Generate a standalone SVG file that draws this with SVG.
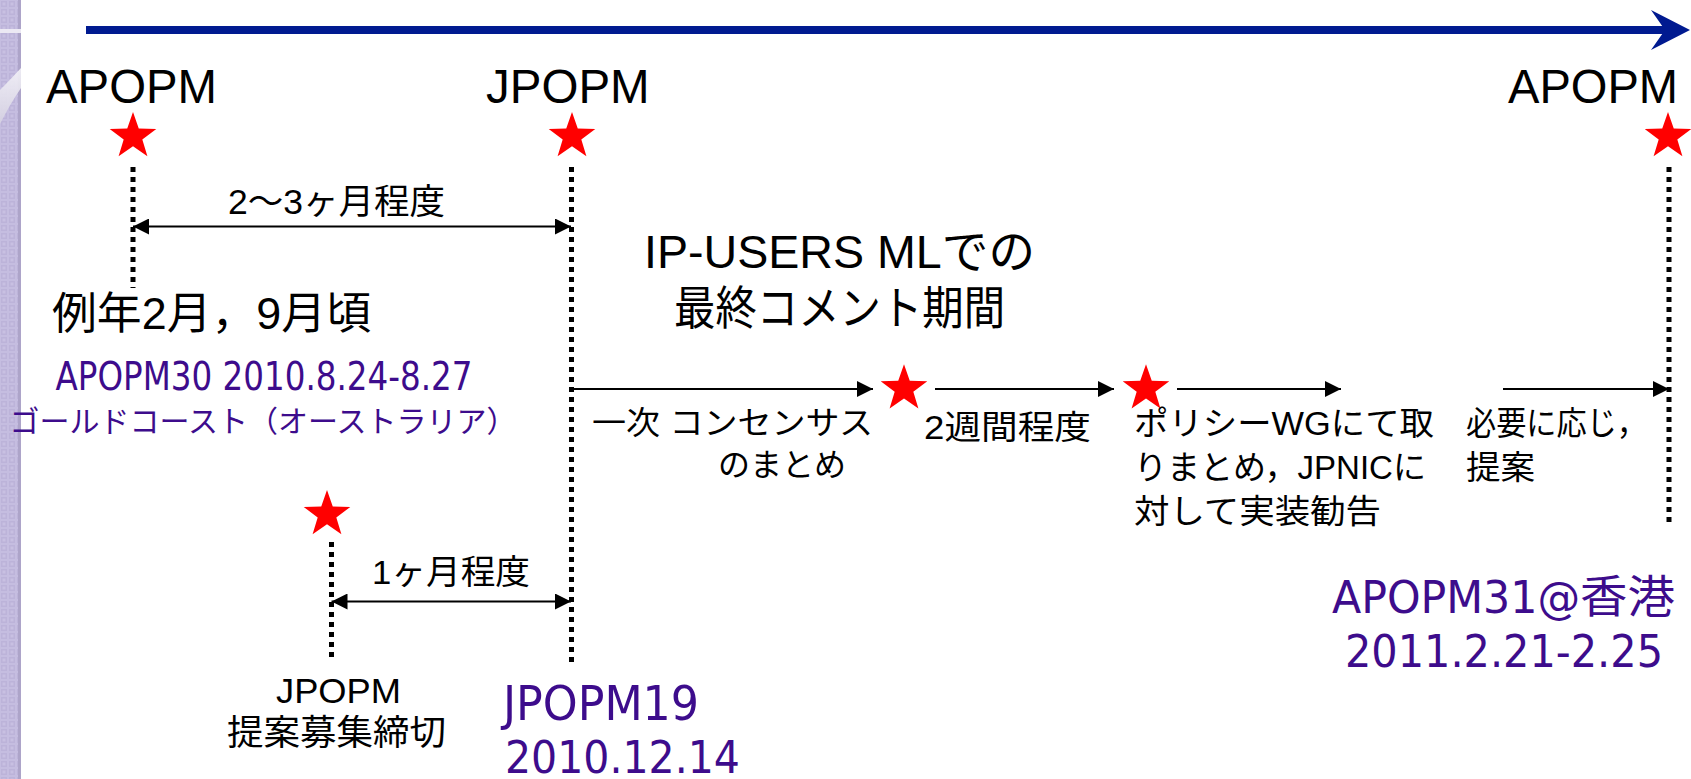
<svg xmlns="http://www.w3.org/2000/svg" width="1691" height="779" viewBox="0 0 1691 779">
<style>
.lat{font-family:"Liberation Sans","Noto Sans CJK JP",sans-serif;fill:#000}
.jp{font-family:"Liberation Sans","Noto Sans CJK JP",sans-serif;fill:#000}
.pu{font-family:"DejaVu Sans Condensed","DejaVu Sans","Noto Sans CJK JP",sans-serif;fill:#3d0c8c}
.puj{font-family:"Noto Sans CJK JP",sans-serif;fill:#3d0c8c}
.dot{stroke:#000;stroke-width:5;stroke-dasharray:5 5;fill:none}
.arr{stroke:#000;stroke-width:2;fill:none}
.one{marker-end:url(#ah)}
.two{marker-end:url(#ah);marker-start:url(#ah)}
.star{fill:#ff0000}
</style>
<defs>
<pattern id="chk" width="8" height="8" patternUnits="userSpaceOnUse">
<rect width="8" height="8" fill="#c5bde0"/>
<rect x="1" y="1" width="6" height="6" fill="#bcb3d9"/>
<rect x="2.5" y="2.5" width="3" height="3" fill="#c8c0e2"/>
</pattern>
<linearGradient id="sw" x1="0" y1="0" x2="0" y2="1">
<stop offset="0" stop-color="#f4f3f8"/>
<stop offset="1" stop-color="#d6d2e2"/>
</linearGradient>
<marker id="ah" markerUnits="userSpaceOnUse" markerWidth="16" markerHeight="16" viewBox="0 0 15 15" refX="15" refY="7.5" orient="auto-start-reverse">
<path d="M0,0 L15,7.5 L0,15 Z" fill="#000"/>
</marker>
<path id="st" d="M0,-24.5 L5.76,-7.93 L23.3,-7.57 L9.32,3.03 L14.4,19.82 L0,9.8 L-14.4,19.82 L-9.32,3.03 L-23.3,-7.57 L-5.76,-7.93 Z"/>
</defs>
<rect width="1691" height="779" fill="#fff"/>
<g id="strip">
<rect x="0" y="0" width="21" height="779" fill="url(#chk)"/>
<rect x="18" y="0" width="3" height="779" fill="#ada4c9"/>
<rect x="0" y="29" width="21" height="4" fill="#ebe8f3"/>
<path d="M0,90 Q10,80 21,68 L21,88 Q10,104 0,124 Z" fill="url(#sw)" opacity="0.9"/>
</g>
<g id="timeline">
<line x1="86" y1="30" x2="1667" y2="30" stroke="#001a90" stroke-width="8"/>
<path d="M1690,30 L1651,10 L1665,30 L1651,50 Z" fill="#001a90"/>
</g>
<g id="connectors">
<line class="dot" x1="133" y1="167" x2="133" y2="288"/>
<line class="dot" x1="571.5" y1="167" x2="571.5" y2="662"/>
<line class="dot" x1="1669" y1="167" x2="1669" y2="522"/>
<line class="dot" x1="331.5" y1="542" x2="331.5" y2="662"/>
<line class="arr two" x1="133" y1="226.5" x2="571" y2="226.5"/>
<line class="arr two" x1="331.5" y1="601.5" x2="571" y2="601.5"/>
<line class="arr one" x1="571" y1="389" x2="873" y2="389"/>
<line class="arr one" x1="935" y1="389" x2="1114" y2="389"/>
<line class="arr one" x1="1177" y1="389" x2="1341" y2="389"/>
<line class="arr one" x1="1503" y1="389" x2="1669" y2="389"/>
</g>
<g id="apopm-left">
<text class="lat" x="46" y="103" font-size="47.5" textLength="171" lengthAdjust="spacingAndGlyphs">APOPM</text>
<use href="#st" class="star" x="133" y="136.5"/>
</g>
<g id="jpopm">
<text class="lat" x="486" y="103" font-size="47.5">JPOPM</text>
<use href="#st" class="star" x="572" y="136.5"/>
</g>
<g id="apopm-right">
<text class="lat" x="1508" y="103" font-size="47.5" textLength="170" lengthAdjust="spacingAndGlyphs">APOPM</text>
<use href="#st" class="star" x="1668" y="136.5"/>
</g>
<g id="span-2-3">
<text class="jp" x="228" y="214" font-size="35" textLength="217" lengthAdjust="spacingAndGlyphs">2〜3ヶ月程度</text>
</g>
<g id="apopm30">
<text class="jp" x="52" y="329" font-size="44" textLength="319" lengthAdjust="spacingAndGlyphs">例年2月，9月頃</text>
<text class="pu" x="55.5" y="390" font-size="39" textLength="417" lengthAdjust="spacingAndGlyphs">APOPM30 2010.8.24-8.27</text>
<text class="puj" x="9.6" y="432" font-size="30" textLength="507" lengthAdjust="spacingAndGlyphs">ゴールドコースト（オーストラリア）</text>
</g>
<g id="final-comment">
<text class="jp" x="644" y="268" font-size="46.5" textLength="391" lengthAdjust="spacingAndGlyphs">IP-USERS MLでの</text>
<text class="jp" x="674" y="324" font-size="46" textLength="331" lengthAdjust="spacingAndGlyphs">最終コメント期間</text>
</g>
<g id="consensus">
<text class="jp" x="592" y="434" font-size="32" textLength="281" lengthAdjust="spacingAndGlyphs">一次 コンセンサス</text>
<text class="jp" x="718" y="476" font-size="32" textLength="128" lengthAdjust="spacingAndGlyphs">のまとめ</text>
</g>
<g id="two-weeks">
<use href="#st" class="star" x="904" y="388.8"/>
<text class="jp" x="924" y="439" font-size="33" textLength="167" lengthAdjust="spacingAndGlyphs">2週間程度</text>
</g>
<g id="policy-wg">
<use href="#st" class="star" x="1146" y="388.8"/>
<text class="jp" x="1134" y="435" font-size="33" textLength="300" lengthAdjust="spacingAndGlyphs">ポリシーWGにて取</text>
<text class="jp" x="1134" y="479" font-size="33" textLength="292" lengthAdjust="spacingAndGlyphs">りまとめ，JPNICに</text>
<text class="jp" x="1134" y="523" font-size="33" textLength="247" lengthAdjust="spacingAndGlyphs">対して実装勧告</text>
</g>
<g id="proposal">
<text class="jp" x="1466" y="435" font-size="33" textLength="181" lengthAdjust="spacingAndGlyphs">必要に応じ，</text>
<text class="jp" x="1466" y="479" font-size="33" textLength="69" lengthAdjust="spacingAndGlyphs">提案</text>
</g>
<g id="deadline">
<use href="#st" class="star" x="327" y="514.5"/>
<text class="jp" x="372" y="584" font-size="34" textLength="158" lengthAdjust="spacingAndGlyphs">1ヶ月程度</text>
<text class="lat" x="276" y="703" font-size="35" textLength="125" lengthAdjust="spacingAndGlyphs">JPOPM</text>
<text class="jp" x="227" y="745" font-size="35" textLength="219" lengthAdjust="spacingAndGlyphs">提案募集締切</text>
</g>
<g id="jpopm19">
<text class="pu" x="503" y="720" font-size="48" textLength="196" lengthAdjust="spacingAndGlyphs">JPOPM19</text>
<text class="pu" x="505" y="773" font-size="45" textLength="235" lengthAdjust="spacingAndGlyphs">2010.12.14</text>
</g>
<g id="apopm31">
<text class="pu" x="1332" y="613" font-size="45" textLength="343" lengthAdjust="spacingAndGlyphs">APOPM31@香港</text>
<text class="pu" x="1345" y="667" font-size="45" textLength="318" lengthAdjust="spacingAndGlyphs">2011.2.21-2.25</text>
</g>
</svg>
